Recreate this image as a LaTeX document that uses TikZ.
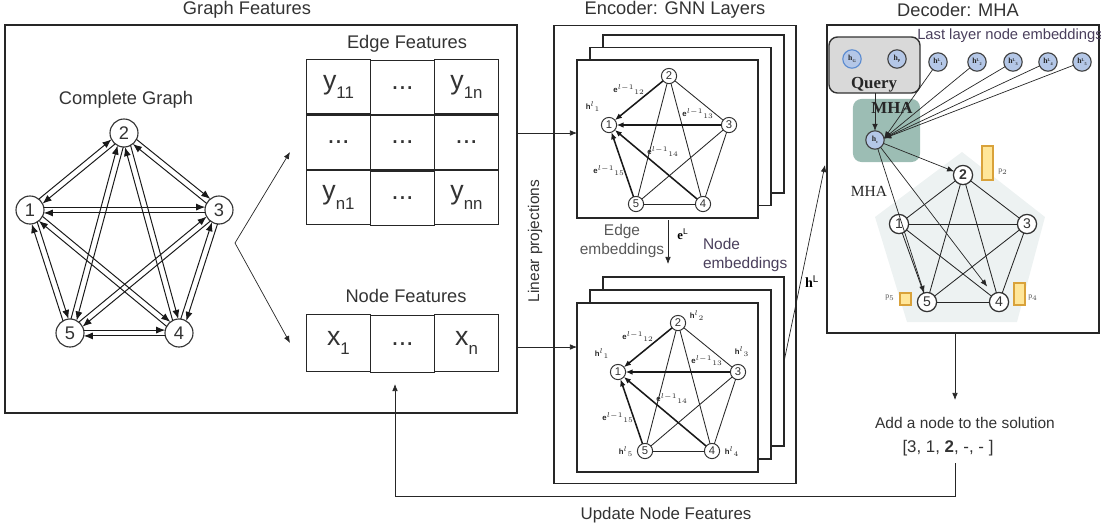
\documentclass[tikz,border=0pt]{standalone}
\usepackage{fontspec}
\setmainfont{Liberation Sans}
\newfontfamily\serifb{Liberation Serif}
\usetikzlibrary{calc,arrows.meta,positioning,matrix}

\definecolor{txtgray}{HTML}{333333}
\definecolor{querygray}{HTML}{D9D9D9}
\definecolor{mhateal}{HTML}{9CBDB4}
\definecolor{embblue}{HTML}{B4C7E7}
\definecolor{hgblue}{HTML}{5B8BD0}
\definecolor{pentgray}{HTML}{EDF2F2}
\definecolor{baryellow}{HTML}{FFE699}
\definecolor{barorange}{HTML}{D9A23A}
\definecolor{embpurple}{HTML}{4A3F5C}

\newcommand{\ysub}[1]{\raisebox{-0.35em}{\fontsize{12}{14}\selectfont#1}}
\newcommand{\emblab}[3]{{\serifb\bfseries\fontsize{5.5}{6}\selectfont #1}%
  \raisebox{1.6pt}{\serifb\bfseries\fontsize{3}{3}\selectfont #2}%
  \raisebox{-1pt}{\serifb\bfseries\fontsize{3}{3}\selectfont #3}}

\begin{document}
\begin{tikzpicture}[x=0.025cm,y=-0.025cm,inner sep=0pt,outer sep=0pt,
>={Latex[length=5pt,width=4pt]},
panel/.style={draw=black!85,line width=1pt},
title/.style={text=txtgray,font=\fontsize{13}{15}\selectfont},
sublabel/.style={text=txtgray,font=\fontsize{11}{13}\selectfont},
cgnode/.style={draw=black!80,circle,fill=white,line width=0.8pt,minimum size=0.7cm,text=txtgray,font=\fontsize{13}{15}\selectfont},
cgarrow/.style={-{Latex[length=6.5pt,width=5pt]},line width=0.7pt,black!90},
cell/.style={draw=black!85,line width=1pt,minimum width=1.6cm,text=txtgray,font=\fontsize{19}{22}\selectfont},
layer/.style={draw=black!85,fill=white,line width=0.8pt,minimum width=4.525cm},
gnode/.style={draw=black!80,circle,fill=white,line width=0.7pt,minimum size=0.38cm,text=txtgray,font=\fontsize{8}{10}\selectfont},
gedge/.style={line width=0.6pt,black!85},
garrow/.style={->,line width=1.1pt,black!90},
tinylab/.style={font=\serifb\fontsize{5.5}{6}\selectfont,text=black!85},
embnode/.style={circle,draw=black!75,fill=embblue,line width=0.8pt,minimum size=0.46cm,text=black!85},
dnode/.style={draw=black!80,circle,fill=white,line width=0.9pt,minimum size=0.48cm,text=txtgray,font=\fontsize{10}{12}\selectfont},
probbar/.style={draw=barorange,fill=baryellow,line width=0.9pt,minimum width=0.275cm},
thinarrow/.style={->,line width=0.5pt,black!85}]

\useasboundingbox (0,0) rectangle (1101,529);

% titles and panels
\node[title] (gftitle) at (247,10) {Graph Features};
\node[title] (enctitle) at (675,10) {Encoder: GNN Layers};
\node[title] (dectitle) at (958,10) {Decoder: MHA};
\node[panel,minimum width=12.8cm,minimum height=9.7cm] (gfbox) at (261,219) {};
\node[panel,minimum width=6.05cm,minimum height=11.45cm] (encbox) at (675,254.5) {};
\node[panel,minimum width=6.8cm,minimum height=7.7cm] (decbox) at (963,179) {};

% complete graph
\node[title] (cglabel) at (126,100) {Complete Graph};
\node[cgnode] (g1) at (30,210) {1};
\node[cgnode] (g2) at (124,133) {2};
\node[cgnode] (g3) at (219,210) {3};
\node[cgnode] (g4) at (179,333) {4};
\node[cgnode] (g5) at (70,333) {5};
\foreach \a/\b in {1/2,1/3,1/4,1/5,2/3,2/4,2/5,3/4,3/5,4/5} {
  \draw[cgarrow] let \p1=($(g\b)-(g\a)$), \n1={atan2(\y1,\x1)},
    \n2={\n1+12}, \n3={\n1+168} in
    (g\a.\n2) -- (g\b.\n3);
  \draw[cgarrow] let \p1=($(g\b)-(g\a)$), \n1={atan2(\y1,\x1)},
    \n4={\n1+192}, \n5={\n1-12} in
    (g\b.\n4) -- (g\a.\n5);
}

% fork to the feature tables
\coordinate (fork) at (235,243);
\coordinate (forkup) at (290,152);
\coordinate (forkdn) at (290,343);
\draw[thinarrow,<->] (forkup) -- (fork) -- (forkdn);

% feature tables
\node[title] (eflabel) at (407,44) {Edge Features};
\matrix (edgefeat) [matrix of nodes,nodes={cell,minimum height=1.37cm},column sep=-1pt,row sep=-1pt] at (402.5,142.5) {
  y\ysub{11} & ... & y\ysub{1n} \\
  ... & ... & ... \\
  y\ysub{n1} & ... & y\ysub{nn} \\
};
\node[title] (nflabel) at (406,296) {Node Features};
\matrix (nodefeat) [matrix of nodes,nodes={cell,minimum height=1.42cm},column sep=-1pt] at (402.5,343.5) {
  x\ysub{1} & ... & x\ysub{n} \\
};

% linear projections into the encoder
\node[sublabel,rotate=90] (linproj) at (535,241) {Linear projections};
\coordinate (projin1) at (517,133);
\coordinate (projin2) at (517,347);

% GNN layer stacks
\foreach \k in {2,1,0}
  \node[layer,minimum height=3.95cm] (toplayer\k) at ($(667.5,139)+(13*\k,-12.5*\k)$) {};
\foreach \k in {2,1,0}
  \node[layer,minimum height=4.225cm] (botlayer\k) at ($(667.5,387.5)+(13*\k,-13*\k)$) {};
\draw[thinarrow] (projin1) -- (toplayer0.west |- projin1);
\draw[thinarrow] (projin2) -- (botlayer0.west |- projin2);

\foreach \lay/\dx/\dy in {t/0/0,b/9/247} {
  \begin{scope}[shift={(\dx,\dy)}]
    \node[gnode] (\lay1) at (609,125) {1};
    \node[gnode] (\lay2) at (669,76) {2};
    \node[gnode] (\lay3) at (729,125) {3};
    \node[gnode] (\lay4) at (703,204) {4};
    \node[gnode] (\lay5) at (636,204) {5};
  \end{scope}
  \foreach \a/\b in {2/3,2/4,2/5,3/4,3/5,4/5}
    \draw[gedge] (\lay\a) -- (\lay\b);
  \foreach \a in {2,...,5}
    \draw[garrow] (\lay\a) -- (\lay1);
  \node[tinylab] (\lay e12) at ($(\lay1)+(20,-35)$) {$\mathbf{e}^{l-1}{}_{12}$};
  \node[tinylab] (\lay e13) at ($(\lay1)+(89,-11)$) {$\mathbf{e}^{l-1}{}_{13}$};
  \node[tinylab] (\lay e14) at ($(\lay1)+(54,27)$) {$\mathbf{e}^{l-1}{}_{14}$};
  \node[tinylab] (\lay e15) at ($(\lay1)+(0,46)$) {$\mathbf{e}^{l-1}{}_{15}$};
  \node[tinylab] (\lay h1) at ($(\lay1)+(-16,-18)$) {$\mathbf{h}^{l}{}_{1}$};
}
\node[tinylab] (bh2) at ($(b2)+(19,-7)$) {$\mathbf{h}^{l}{}_{2}$};
\node[tinylab] (bh3) at ($(b3)+(4,-20)$) {$\mathbf{h}^{l}{}_{3}$};
\node[tinylab] (bh4) at ($(b4)+(20,1)$) {$\mathbf{h}^{l}{}_{4}$};
\node[tinylab] (bh5) at ($(b5)+(-19,1)$) {$\mathbf{h}^{l}{}_{5}$};

% embeddings between the stacks
\node[sublabel,text=black!65,align=center] (edgeemb) at (622,241) {Edge\\embeddings};
\node[sublabel,text=embpurple,align=left,anchor=west] (nodeemb) at (703,255) {Node\\embeddings};
\coordinate (eLtail) at (668,220);
\coordinate (eLhead) at (668,264);
\draw[thinarrow] (eLtail) -- (eLhead);
\node[font=\serifb\bfseries\fontsize{9}{10}\selectfont] (eLlab) at (683,234) {e$^{\mathrm{L}}$};
\coordinate (hLhead) at (825,165);
\draw[thinarrow] (botlayer2.east) -- (hLhead);
\node[font=\serifb\bfseries\fontsize{10}{11}\selectfont] (hLlab) at (812,282) {h$^{\mathrm{L}}$};

% decoder: query, last layer embeddings, MHA
\node[draw=black!80,fill=querygray,rounded corners=6pt,line width=1pt,minimum width=2.275cm,minimum height=1.4cm] (query) at (874.5,65) {};
\node[embnode,draw=hgblue] (hG) at (852,59) {\emblab{h}{}{G}};
\node[embnode] (hp) at (897,59) {\emblab{h}{}{p}};
\node[font=\serifb\bfseries\fontsize{12}{14}\selectfont,text=black!85] (querylab) at (874,85) {Query};
\node[font=\fontsize{10.5}{12}\selectfont,text=embpurple] (lastlab) at (1010,36) {Last layer node embeddings};
\foreach \i/\xx in {1/938,2/977,3/1013,4/1048,5/1082}
  \node[embnode] (hL\i) at (\xx,62) {\emblab{h}{L}{\i}};
\node[fill=mhateal,rounded corners=6pt,minimum width=1.675cm,minimum height=1.575cm] (mhabox) at (886.5,130.5) {};
\node[font=\serifb\bfseries\fontsize{12}{14}\selectfont,text=black!85] (mhalab) at (892,108) {MHA};
\node[embnode] (hc) at (875,140) {\emblab{h}{}{c}};
\draw[thinarrow] (query.south -| hc) -- (hc);
\foreach \i in {1,...,5}
  \draw[thinarrow] (hL\i) -- (hc.10);

% decoder: solution graph
\fill[pentgray] (962,152) -- (1045,217) -- (1017,322) -- (907,322) -- (875,217) -- cycle;
\node[dnode] (d1) at (899,224) {1};
\node[dnode,font=\bfseries\fontsize{10}{12}\selectfont] (d2) at (963,175) {2};
\node[dnode] (d3) at (1027,224) {3};
\node[dnode] (d4) at (999,302) {4};
\node[dnode] (d5) at (927,302) {5};
\foreach \a/\b in {1/2,1/3,1/4,1/5,2/3,2/4,2/5,3/4,3/5,4/5}
  \draw[gedge] (d\a) -- (d\b);
\draw[thinarrow] (hc) -- (d2);
\draw[thinarrow] (hc) -- (d5);
\draw[thinarrow,shorten >=7pt] (hc) -- (d4);
\node[font=\serifb\fontsize{11}{13}\selectfont,text=black!85] (mhatext) at (869,191) {MHA};

% probabilities
\node[probbar,minimum height=0.85cm] (bar2) at (987.5,163) {};
\node[probbar,minimum height=0.3cm] (bar5) at (905.5,299) {};
\node[probbar,minimum height=0.55cm] (bar4) at (1019.5,294) {};
\node[tinylab,text=black!70] (p2) at (1003,172) {p$_{2}$};
\node[tinylab,text=black!70] (p5) at (890,298) {p$_{5}$};
\node[tinylab,text=black!70] (p4) at (1033,298) {p$_{4}$};

% solution and feedback
\node[sublabel] (addnode) at (965,423) {Add a node to the solution};
\node[sublabel,font=\fontsize{12}{14}\selectfont] (sollist) at (948,448) {[3, 1, \textbf{2}, -, - ]};
\coordinate (soltop) at (955,400);
\coordinate (solbot) at (955,463);
\coordinate (fbhead) at (395,384);
\draw[thinarrow] (decbox.south -| soltop) -- (soltop);
\draw[thinarrow] (solbot) -- ++(0,33) -| (fbhead);
\node[title,font=\fontsize{12}{14}\selectfont] (updlabel) at (666,515) {Update Node Features};
\end{tikzpicture}
\end{document}
